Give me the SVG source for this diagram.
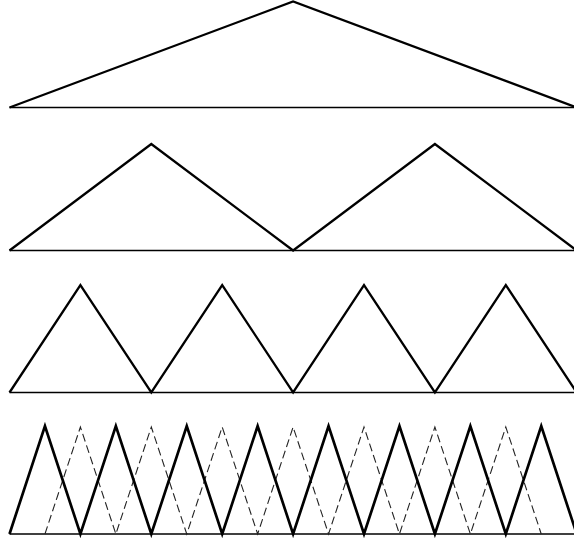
<svg xmlns="http://www.w3.org/2000/svg" width="574" height="545" viewBox="0 0 574 545">
<style>
.base{stroke:#000;stroke-width:1.3;fill:none}
.tri{stroke:#000;stroke-width:2.3;fill:none;stroke-linejoin:miter}
.tri4{stroke:#000;stroke-width:2.7;fill:none;stroke-linejoin:miter}
.dash{stroke:#222;stroke-width:1.1;fill:none;stroke-dasharray:8 4}
</style>
<rect width="574" height="545" fill="#fff"/>
<g id="row1">
<line class="base" x1="9.5" y1="107.5" x2="576.7" y2="107.5"/>
<polyline class="tri" points="9.5,107.5 293.1,1.5 576.7,107.5"/>
</g>
<g id="row2">
<line class="base" x1="9.5" y1="250.5" x2="576.7" y2="250.5"/>
<polyline class="tri" points="9.5,250.5 151.3,144 293.1,250.5 434.9,144 576.7,250.5"/>
</g>
<g id="row3">
<line class="base" x1="9.5" y1="392.5" x2="576.7" y2="392.5"/>
<polyline class="tri" points="9.5,392.5 80.4,285 151.3,392.5 222.2,285 293.1,392.5 364,285 434.9,392.5 505.8,285 576.7,392.5"/>
</g>
<g id="row4">
<line class="base" x1="9.5" y1="534" x2="576.7" y2="534"/>
<polyline class="dash" points="44.95,534 80.4,427 115.85,534 151.3,427 186.75,534 222.2,427 257.65,534 293.1,427 328.55,534 364,427 399.45,534 434.9,427 470.35,534 505.8,427 541.25,534"/>
<polyline class="tri4" points="9.5,534 44.95,426 80.4,534 115.85,426 151.3,534 186.75,426 222.2,534 257.65,426 293.1,534 328.55,426 364,534 399.45,426 434.9,534 470.35,426 505.8,534 541.25,426 576.7,534"/>
</g>
</svg>
